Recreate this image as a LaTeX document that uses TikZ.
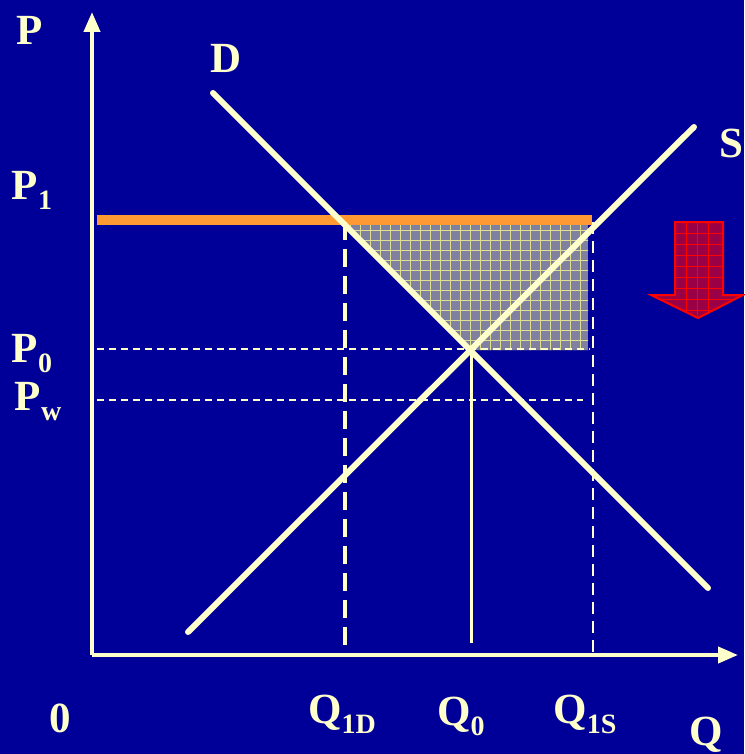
\documentclass[tikz,border=0pt]{standalone}
\usepackage{fontspec}
\setmainfont{Liberation Serif}
\usetikzlibrary{arrows.meta}

\newcommand{\subidx}[1]{\raisebox{-10pt}{\fontsize{28}{28}\selectfont #1}}

\begin{document}
\begin{tikzpicture}[
    x=1pt, y=-1pt,
    % Estilos
    axis/.style={draw=cream, line width=4pt, -{Triangle[length=20pt, width=16pt]}},
    curve/.style={draw=cream, line width=6pt, line cap=round},
    guide/.style={draw=cream, line width=1.5pt, dash pattern=on 7pt off 5pt},
    guide thick/.style={draw=cream, line width=3.5pt, dash pattern=on 18pt off 9pt},
    price line/.style={draw=worldorange, line width=10pt},
    lbl/.style={text=cream, font=\fontsize{43}{45}\selectfont\bfseries, inner sep=0pt}
]

% ── Colores ──
\definecolor{bgblue}{HTML}{000099}
\definecolor{cream}{HTML}{FFFFCC}
\definecolor{worldorange}{HTML}{FF9933}
\definecolor{shadegray}{HTML}{8080A0}
\definecolor{gridyellow}{HTML}{E0E090}
\definecolor{arrowred}{HTML}{990045}

% ── Fondo ──
\useasboundingbox (0,0) rectangle (744,754);
\fill[bgblue] (0,0) rectangle (744,754);

% ════════════════════════════════════════
% PUNTOS clave
% ════════════════════════════════════════
\coordinate (origin) at (92,655);
\coordinate (ytop)   at (92,12);
\coordinate (xend)   at (738,655);
\coordinate (dtop)   at (213,93);
\coordinate (dbot)   at (708,588);
\coordinate (sbot)   at (188,632);
\coordinate (stop)   at (694,127);
\coordinate (eq)     at (471,350);
\coordinate (q0base) at (471,643);
\coordinate (a)      at (345,222);
\coordinate (b)      at (588,222);
\coordinate (c)      at (588,350);

% ════════════════════════════════════════
% AREA sombreada
% ════════════════════════════════════════
\begin{scope}
    \clip (a) -- (b) -- (c) -- (eq) -- cycle;
    \fill[shadegray] (a) rectangle (c);
    \foreach \gx in {350,360,...,590}
        \draw[gridyellow, line width=0.5pt] (\gx,215) -- (\gx,360);
    \foreach \gy in {230,240,...,350}
        \draw[gridyellow, line width=0.5pt] (340,\gy) -- (600,\gy);
\end{scope}

% ════════════════════════════════════════
% LINEAS de referencia
% ════════════════════════════════════════
\draw[price line] (97,220) -- (592,220);
\draw[guide] (97,349) -- (590,349);
\draw[guide] (97,400) -- (583,400);
\draw[guide thick] (a) -- (345,655);
\draw[guide, line width=2pt, dash pattern=on 12pt off 7pt] (593,222) -- (593,655);
\draw[draw=cream, line width=3pt] (eq) -- (q0base);

% ════════════════════════════════════════
% CURVAS oferta y demanda
% ════════════════════════════════════════
\draw[curve] (dtop) -- (dbot);
\draw[curve] (sbot) -- (stop);

% ════════════════════════════════════════
% EJES
% ════════════════════════════════════════
\draw[axis] (origin) -- (ytop);
\draw[axis] (origin) -- (xend);

% ════════════════════════════════════════
% FLECHA roja (baja de precio)
% ════════════════════════════════════════
\begin{scope}
    \clip (675,222) -- (723,222) -- (723,295) -- (743,295) -- (698,318)
          -- (651,295) -- (675,295) -- cycle;
    \fill[arrowred] (650,220) rectangle (744,320);
    \foreach \gx in {686,697,...,715}
        \draw[red, line width=0.5pt] (\gx,220) -- (\gx,320);
    \foreach \gy in {233,244,...,312}
        \draw[red, line width=0.5pt] (650,\gy) -- (744,\gy);
\end{scope}
\draw[red, line width=2pt, line join=miter] (675,222) -- (723,222) -- (723,295)
    -- (743,295) -- (698,318) -- (651,295) -- (675,295) -- cycle;

% ════════════════════════════════════════
% ETIQUETAS
% ════════════════════════════════════════
\node[lbl] (lblP)   at (30,30)   {P};
\node[lbl] (lblD)   at (226,58)  {D};
\node[lbl] (lblS)   at (731,143) {S};
\node[lbl] (lblP1)  at (32,190)  {P\subidx{1}};
\node[lbl] (lblP0)  at (32,354)  {P\subidx{0}};
\node[lbl] (lblPw)  at (38,402)  {P\subidx{w}};
\node[lbl] (lbl0)   at (60,718)  {0};
\node[lbl] (lblQ1D) at (342,714) {Q\subidx{1D}};
\node[lbl] (lblQ0)  at (461,716) {Q\subidx{0}};
\node[lbl] (lblQ1S) at (585,714) {Q\subidx{1S}};
\node[lbl] (lblQ)   at (706,735) {Q};

\end{tikzpicture}
\end{document}
